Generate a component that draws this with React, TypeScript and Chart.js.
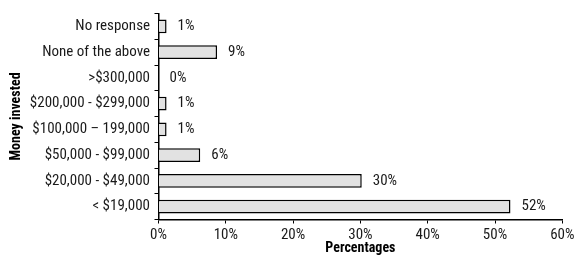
import React, { useEffect, useRef } from "react";
import { Chart, registerables } from "chart.js";

Chart.register(...registerables);

const categories = [
  "No response",
  "None of the above",
  ">$300,000",
  "$200,000 - $299,000",
  "$100,000 \u2013 199,000",
  "$50,000 - $99,000",
  "$20,000 - $49,000",
  "< $19,000",
];
const percentages = [1.2, 8.7, 0, 1.2, 1.2, 6.2, 30.2, 52.3];
const valueLabels = ["1%", "9%", "0%", "1%", "1%", "6%", "30%", "52%"];
const xTicks = [0, 10, 20, 30, 40, 50, 60];

const FONT = "'Roboto Condensed', 'DejaVu Sans Condensed', sans-serif";
const TEXT = "#1a1a1a";

const valueLabelPlugin = {
  id: "valueLabels",
  afterDatasetsDraw(chart: any) {
    const { ctx } = chart;
    const meta = chart.getDatasetMeta(0);
    ctx.save();
    ctx.font = `15px ${FONT}`;
    ctx.fillStyle = TEXT;
    ctx.textAlign = "left";
    ctx.textBaseline = "middle";
    meta.data.forEach((el: any, i: number) => {
      ctx.fillText(valueLabels[i], el.x + 11, el.y);
    });
    ctx.restore();
  },
};

export default function App() {
  const ref = useRef<HTMLCanvasElement>(null);
  useEffect(() => {
    if (!ref.current) return;
    const chart = new Chart(ref.current, {
      type: "bar",
      data: {
        labels: categories,
        datasets: [
          {
            data: percentages,
            backgroundColor: "#e2e2e2",
            borderColor: "#000000",
            borderWidth: 1.5,
            barPercentage: 0.53,
            categoryPercentage: 1,
          },
        ],
      },
      options: {
        indexAxis: "y",
        animation: false,
        responsive: false,
        maintainAspectRatio: false,
        layout: { padding: { top: 5.5, right: 15.7, bottom: 0, left: 0 } },
        plugins: { legend: { display: false }, tooltip: { enabled: false } },
        scales: {
          x: {
            min: 0,
            max: 60,
            afterBuildTicks: (scale: any) => {
              scale.ticks = xTicks.map((v) => ({ value: v }));
            },
            afterFit: (scale: any) => {
              scale.height = 42.5;
            },
            grid: {
              drawOnChartArea: false,
              drawTicks: true,
              tickLength: 4,
              color: "#000000",
            },
            border: { color: "#000000", width: 1.5 },
            ticks: {
              padding: 2.5,
              color: TEXT,
              font: { family: FONT, size: 15 },
              callback: (v: any) => `${v}%`,
            },
            title: {
              display: true,
              text: "Percentages",
              color: "#000000",
              font: { family: FONT, size: 14, weight: "bold" },
              padding: { top: 0, bottom: 5.5 },
            },
          },
          y: {
            afterFit: (scale: any) => {
              scale.width = 158.5;
            },
            grid: {
              drawOnChartArea: false,
              drawTicks: true,
              tickLength: 4,
              color: "#000000",
            },
            border: { color: "#000000", width: 1.5 },
            ticks: {
              padding: 4.5,
              color: TEXT,
              font: { family: FONT, size: 15 },
            },
            title: {
              display: true,
              text: "Money invested",
              color: "#000000",
              font: { family: FONT, size: 14, weight: "bold" },
              padding: { top: 8, bottom: 0 },
            },
          },
        },
      },
      plugins: [valueLabelPlugin],
    });
    return () => chart.destroy();
  }, []);
  return (
    <div style={{ position: "absolute", left: 0, top: 0, width: 578, height: 262, background: "#fff" }}>
      <canvas ref={ref} width={578} height={262} style={{ width: 578, height: 262 }} />
    </div>
  );
}
